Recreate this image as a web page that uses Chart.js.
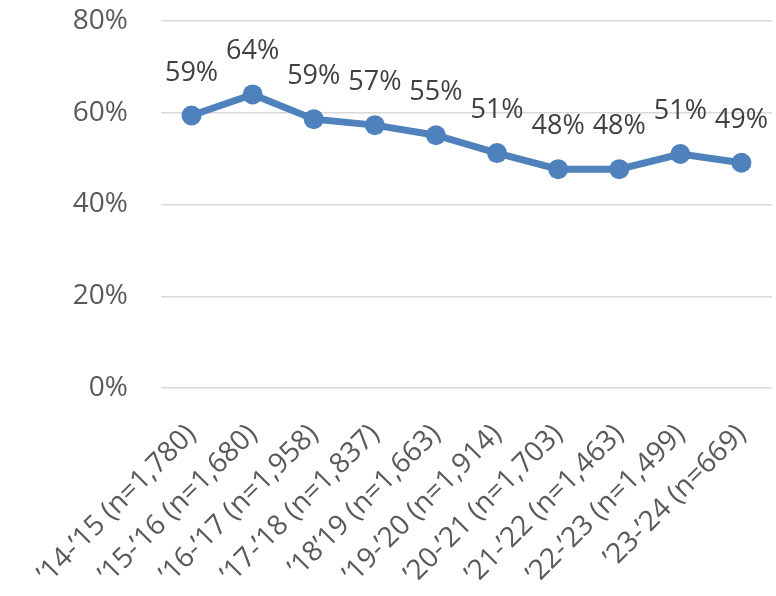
<!DOCTYPE html>
<html>
<head>
<meta charset="utf-8">
<script src="https://cdn.jsdelivr.net/npm/chart.js@4/dist/chart.umd.min.js"></script>
<style>
  html, body { margin: 0; padding: 0; background: #fff; overflow: hidden; }
  #wrap { width: 776px; height: 596px; position: relative; }
  canvas { display: block; }
</style>
</head>
<body>
<div id="wrap"><canvas id="chart"></canvas></div>
<script>
const years = ["\u201914-\u201915 (n=1,780)", "\u201915-\u201916 (n=1,680)", "\u201916-\u201917 (n=1,958)",
  "\u201917-\u201918 (n=1,837)", "\u201918\u201919 (n=1,663)", "\u201919-\u201920 (n=1,914)",
  "\u201920-\u201921 (n=1,703)", "\u201921-\u201922 (n=1,463)", "\u201922-\u201923 (n=1,499)",
  "\u201923-\u201924 (n=669)"];
const shares = [59.4, 64.0, 58.6, 57.3, 55.1, 51.2, 47.7, 47.7, 51.0, 49.1];
const shareLabels = ["59%", "64%", "59%", "57%", "55%", "51%", "48%", "48%", "51%", "49%"];
const yTicks = [0, 20, 40, 60, 80];

const fontFamily = "'Open Sans', 'Liberation Sans', sans-serif";

// Excel-style labels above each point
const pointLabels = {
  id: "pointLabels",
  afterDatasetsDraw(chart) {
    const ctx = chart.ctx;
    const meta = chart.getDatasetMeta(0);
    ctx.save();
    ctx.font = "27px " + fontFamily;
    ctx.fillStyle = "#404040";
    ctx.textAlign = "center";
    ctx.textBaseline = "alphabetic";
    meta.data.forEach((pt, i) => {
      ctx.fillText(shareLabels[i], pt.x, pt.y - 35);
    });
    ctx.restore();
  }
};

new Chart(document.getElementById("chart"), {
  type: "line",
  data: {
    labels: years,
    datasets: [{
      data: shares,
      borderColor: "#4f81bd",
      backgroundColor: "#4f81bd",
      borderWidth: 7,
      pointRadius: 10,
      pointHoverRadius: 10,
      pointBackgroundColor: "#4f81bd",
      pointBorderWidth: 0,
      tension: 0
    }]
  },
  options: {
    responsive: true,
    maintainAspectRatio: false,
    animation: false,
    layout: { autoPadding: false, padding: { top: 21, right: 4, left: 0, bottom: 0 } },
    plugins: { legend: { display: false }, tooltip: { enabled: false } },
    scales: {
      x: {
        offset: true,
        grid: { display: false },
        border: { display: false },
        ticks: {
          color: "#595959",
          font: { family: fontFamily, size: 28 },
          minRotation: 45,
          maxRotation: 45,
          autoSkip: false,
          padding: 22
        },
        afterFit(scale) {
          scale.height = 208;
          scale.paddingLeft = 0;
          scale.paddingRight = 0;
        }
      },
      y: {
        min: 0,
        max: 80,
        afterBuildTicks(scale) { scale.ticks = yTicks.map(v => ({ value: v })); },
        grid: { color: "#d9d9d9", lineWidth: 1.5, drawTicks: false },
        border: { display: false },
        ticks: {
          color: "#595959",
          font: { family: fontFamily, size: 28 },
          padding: 33,
          callback: v => v + "%"
        },
        afterFit(scale) {
          scale.width = 161;
          scale.paddingTop = 0;
          scale.paddingBottom = 0;
        }
      }
    }
  },
  plugins: [pointLabels]
});
</script>
</body>
</html>
